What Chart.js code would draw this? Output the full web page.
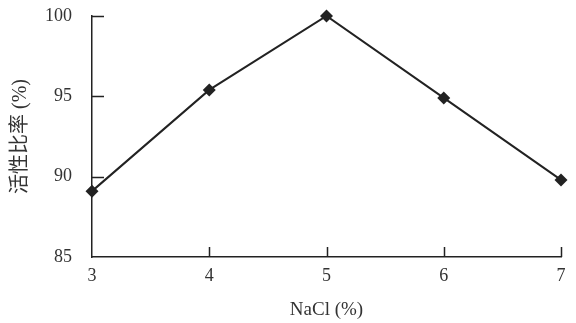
<!DOCTYPE html>
<html>
<head>
<meta charset="utf-8">
<script src="https://cdn.jsdelivr.net/npm/chart.js@4.4.0/dist/chart.umd.min.js"></script>
<style>
  html, body { margin: 0; padding: 0; background: #fff; }
  #wrap { width: 576px; height: 323px; }
</style>
</head>
<body>
<div id="wrap"><canvas id="linechart"></canvas></div>
<script>
// NaCl concentration (%) vs relative activity (%)
var nacl = [3, 4, 5, 6, 7];
var activity = [89.1, 95.4, 100, 94.9, 89.8];
var yTicks = [85, 90, 95, 100];

var serif = "'Liberation Serif', 'Noto Sans CJK SC', serif";
var ink = '#222';

// ticks drawn inward, like the original figure
var innerTicks = {
  id: 'innerTicks',
  afterDraw: function(chart) {
    var ctx = chart.ctx, x = chart.scales.x, y = chart.scales.y;
    ctx.save();
    ctx.strokeStyle = ink;
    ctx.lineWidth = 1.5;
    ctx.beginPath();
    yTicks.forEach(function(v) {
      if (v === y.min) return;
      var py = Math.round(y.getPixelForValue(v)) + 0.5;
      ctx.moveTo(x.left, py);
      ctx.lineTo(x.left + 12, py);
    });
    nacl.forEach(function(v) {
      if (v === x.min) return;
      var px = Math.round(x.getPixelForValue(v)) + 0.5;
      ctx.moveTo(px, y.bottom);
      ctx.lineTo(px, y.bottom - 10);
    });
    ctx.stroke();
    ctx.restore();
  }
};

function noPad(s) {
  s.paddingTop = 0; s.paddingBottom = 0;
  s.paddingLeft = 0; s.paddingRight = 0;
}

var ctx = document.getElementById('linechart').getContext('2d');
var myChart = new Chart(ctx, {
  type: 'line',
  data: {
    datasets: [{
      data: nacl.map(function(v, i) { return { x: v, y: activity[i] }; }),
      borderColor: ink,
      borderWidth: 2,
      backgroundColor: ink,
      pointStyle: 'rectRot',
      pointRadius: 6.5,
      pointBorderWidth: 0,
      tension: 0,
      clip: false
    }]
  },
  options: {
    responsive: true,
    maintainAspectRatio: false,
    animation: false,
    layout: { autoPadding: false, padding: { left: 0, right: 15, top: 16, bottom: 0 } },
    plugins: { legend: { display: false }, tooltip: { enabled: false } },
    scales: {
      x: {
        type: 'linear',
        min: 3, max: 7,
        grid: { display: false, drawTicks: false },
        border: { display: true, color: ink, width: 1.5 },
        ticks: {
          stepSize: 1, padding: 8, color: '#333',
          font: { family: serif, size: 18 }
        },
        title: {
          display: true, text: 'NaCl (%)', color: '#333',
          font: { family: serif, size: 19 },
          padding: { top: 0, bottom: 2 }
        },
        afterFit: function(s) { s.height = 66; noPad(s); }
      },
      y: {
        min: 85, max: 100,
        afterBuildTicks: function(s) {
          s.ticks = yTicks.map(function(v) { return { value: v }; });
        },
        grid: { display: false, drawTicks: false },
        border: { display: true, color: ink, width: 1.5 },
        ticks: {
          padding: 20, color: '#333',
          font: { family: serif, size: 18 }
        },
        title: {
          display: true, text: '活性比率 (%)', color: '#333',
          font: { family: serif, size: 20 },
          padding: { top: 9, bottom: 0 }
        },
        afterFit: function(s) { s.width = 92; noPad(s); }
      }
    }
  },
  plugins: [innerTicks]
});
</script>
</body>
</html>
